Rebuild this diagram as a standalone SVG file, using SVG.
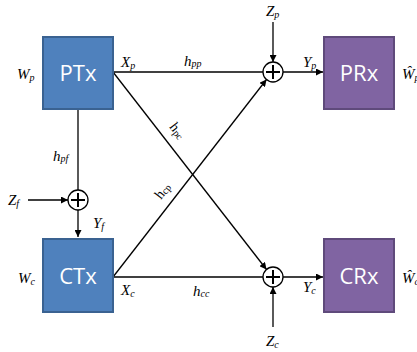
<svg xmlns="http://www.w3.org/2000/svg" width="417" height="352" viewBox="0 0 417 352">
<defs>
<marker id="ah" viewBox="0 0 10 10" refX="10" refY="5" markerWidth="7" markerHeight="7" markerUnits="userSpaceOnUse" orient="auto">
<path d="M0,0 L10,5 L0,10 z" fill="#000"/>
</marker>
</defs>
<style>
.tx{fill:#4F81BD;stroke:#3A6291;stroke-width:2}
.rx{fill:#8064A2;stroke:#5F4A7B;stroke-width:2}
.bl{font-family:"Open Sans","Liberation Sans",sans-serif;font-size:22px;fill:#fff;text-anchor:middle}
.lb{font-family:"Liberation Serif",serif;font-style:italic;font-size:15px;fill:#000}
.rl{font-family:"Liberation Serif",serif;font-size:14px;fill:#000}
.sb{font-size:10px}
.ln{stroke:#000;stroke-width:1.3;fill:none}
.ar{stroke:#000;stroke-width:1.3;fill:none;marker-end:url(#ah)}
.sum{fill:#fff;stroke:#000;stroke-width:1.3}
.pl{stroke:#000;stroke-width:2;fill:none}
</style>
<g id="connectors">
<line class="ln" x1="113" y1="72" x2="263" y2="72"/>
<line class="ar" x1="283" y1="72" x2="323" y2="72"/>
<line class="ar" x1="273" y1="22" x2="273" y2="62"/>
<line class="ln" x1="113" y1="277" x2="263" y2="277"/>
<line class="ar" x1="283" y1="277" x2="323" y2="277"/>
<line class="ar" x1="273" y1="327" x2="273" y2="287"/>
<line class="ar" x1="113" y1="72" x2="266.5" y2="269.5"/>
<line class="ar" x1="113" y1="277" x2="266.5" y2="79.5"/>
<line class="ln" x1="78" y1="110" x2="78" y2="190"/>
<line class="ar" x1="78" y1="210" x2="78" y2="237"/>
<line class="ar" x1="28" y1="200" x2="68" y2="200"/>
</g>
<g id="PTx"><rect class="tx" x="43" y="37" width="70" height="72"/><text class="bl" x="78" y="81">PTx</text></g>
<g id="CTx"><rect class="tx" x="43" y="239" width="70" height="73"/><text class="bl" x="78" y="284">CTx</text></g>
<g id="PRx"><rect class="rx" x="324" y="37" width="70" height="72"/><text class="bl" x="359" y="81">PRx</text></g>
<g id="CRx"><rect class="rx" x="324" y="239" width="70" height="73"/><text class="bl" x="359" y="284">CRx</text></g>
<g id="sum-p"><circle class="sum" cx="273" cy="72" r="10"/><path class="pl" d="M266,72 H280 M273,65 V79"/></g>
<g id="sum-c"><circle class="sum" cx="273" cy="277" r="10"/><path class="pl" d="M266,277 H280 M273,270 V284"/></g>
<g id="sum-f"><circle class="sum" cx="78" cy="200" r="10"/><path class="pl" d="M71,200 H85 M78,193 V207"/></g>
<g id="labels">
<text class="lb" x="17" y="79">W<tspan class="sb" dy="2">p</tspan></text>
<text class="lb" x="18" y="283">W<tspan class="sb" dy="2">c</tspan></text>
<text class="lb" x="121" y="67">X<tspan class="sb" dy="2">p</tspan></text>
<text class="lb" x="121" y="295">X<tspan class="sb" dy="2">c</tspan></text>
<text class="lb" x="184" y="66">h<tspan class="sb" dy="1">pp</tspan></text>
<text class="lb" x="193" y="296">h<tspan class="sb" dy="1">cc</tspan></text>
<text class="lb" x="53" y="161">h<tspan class="sb" dy="1">pf</tspan></text>
<text class="lb" x="93" y="228">Y<tspan class="sb" dy="2">f</tspan></text>
<text class="lb" x="8" y="205">Z<tspan class="sb" dy="2">f</tspan></text>
<text class="lb" x="266" y="16">Z<tspan class="sb" dy="2">p</tspan></text>
<text class="lb" x="266" y="346">Z<tspan class="sb" dy="2">c</tspan></text>
<text class="lb" x="303" y="67">Y<tspan class="sb" dy="2">p</tspan></text>
<text class="lb" x="303" y="292">Y<tspan class="sb" dy="2">c</tspan></text>
<text class="lb" x="402" y="79">Ŵ<tspan class="sb" dy="2">p</tspan></text>
<text class="lb" x="402" y="283">Ŵ<tspan class="sb" dy="2">c</tspan></text>
<text class="rl" transform="translate(169,127) rotate(52)">h<tspan class="sb" dy="1">pc</tspan></text>
<text class="rl" transform="translate(161,200) rotate(-52)">h<tspan class="sb" dy="1">cp</tspan></text>
</g>
</svg>
